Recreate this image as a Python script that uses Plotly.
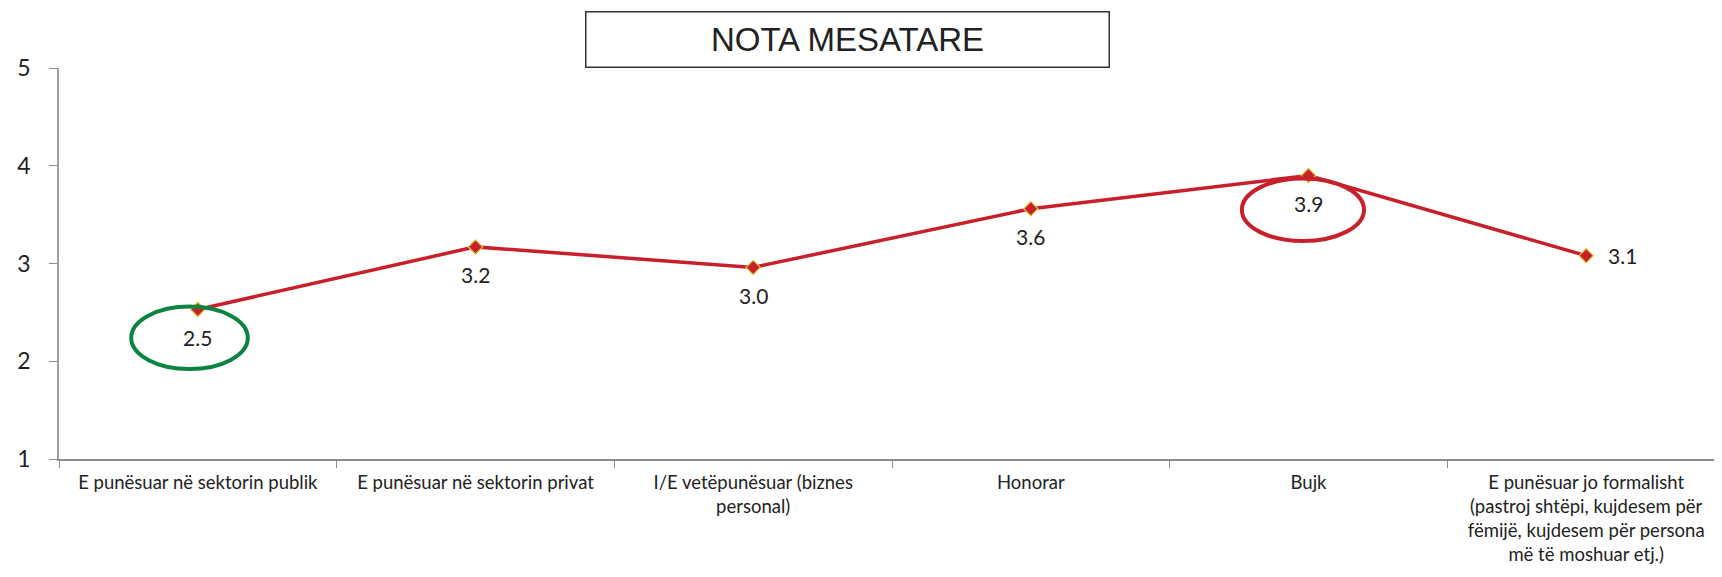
import plotly.graph_objects as go

categories = [
    "E punësuar në sektorin publik",
    "E punësuar në sektorin privat",
    "I/E vetëpunësuar (biznes<br>personal)",
    "Honorar",
    "Bujk",
    "E punësuar jo formalisht<br>(pastroj shtëpi, kujdesem për<br>fëmijë, kujdesem për persona<br>më të moshuar etj.)",
]
values = [2.53, 3.17, 2.96, 3.56, 3.90, 3.08]
labels = ["2.5", "3.2", "3.0", "3.6", "3.9", "3.1"]
label_below = [True, True, True, True, True, False]
y_ticks = [1, 2, 3, 4, 5]

FONT = "Lato, 'Noto Sans', sans-serif"

fig = go.Figure()
fig.add_trace(go.Scatter(
    x=list(range(len(categories))), y=values,
    mode="lines+markers",
    line=dict(color="#C8202A", width=3.5),
    marker=dict(symbol="diamond", size=11, color="#C8202A",
                line=dict(color="#D9C83A", width=1.2)),
    showlegend=False,
))

for i, (v, lab, below) in enumerate(zip(values, labels, label_below)):
    if below:
        fig.add_annotation(x=i, y=v, text=lab, showarrow=False,
                           xanchor="center", yanchor="middle", yshift=-28,
                           font=dict(family=FONT, size=21, color="#222222"))
    else:
        fig.add_annotation(x=i, y=v, text=lab, showarrow=False,
                           xanchor="left", yanchor="middle", xshift=20,
                           font=dict(family=FONT, size=21, color="#222222"))

# highlight ellipses around lowest and highest values
fig.add_shape(type="circle", xref="x", yref="y",
              x0=-0.24, x1=0.18, y0=1.92, y1=2.56,
              line=dict(color="#0B8442", width=4))
fig.add_shape(type="circle", xref="x", yref="y",
              x0=3.76, x1=4.20, y0=3.23, y1=3.87,
              line=dict(color="#C8202A", width=4))

fig.add_annotation(
    text="NOTA MESATARE", xref="paper", yref="paper",
    x=0.473, y=1.072, xanchor="center", yanchor="middle",
    showarrow=False, width=520, height=52,
    bordercolor="#333333", borderwidth=1.5, bgcolor="white",
    font=dict(family="'Liberation Sans', Arial, sans-serif", size=33, color="#222222"),
)

fig.update_xaxes(
    tickmode="array", tickvals=list(range(len(categories))), ticktext=categories,
    range=[-0.5, len(categories) - 0.5],
    showline=True, linecolor="#8C8C8C", linewidth=1.5,
    showgrid=False, zeroline=False, automargin=False,
    ticks="", ticklabelstandoff=6,
    tickfont=dict(family=FONT, size=18.5, color="#222222"),
)
fig.update_xaxes(minor=dict(tickmode="array",
                            tickvals=[i - 0.5 for i in range(len(categories) + 1)],
                            ticks="outside", ticklen=7, tickcolor="#8C8C8C", tickwidth=1.2,
                            showgrid=False))
fig.update_yaxes(
    range=[1, 5], tickvals=y_ticks,
    showline=True, linecolor="#A0A0A0", linewidth=1.5,
    showgrid=False, zeroline=False, automargin=False,
    ticks="outside", ticklen=8, tickcolor="#8C8C8C", ticklabelstandoff=14,
    tickfont=dict(family=FONT, size=23, color="#222222"),
)

fig.update_layout(
    width=1722, height=577,
    margin=dict(l=51, r=5, t=60, b=126),
    plot_bgcolor="white", paper_bgcolor="white",
)

fig.write_html("out.html")
